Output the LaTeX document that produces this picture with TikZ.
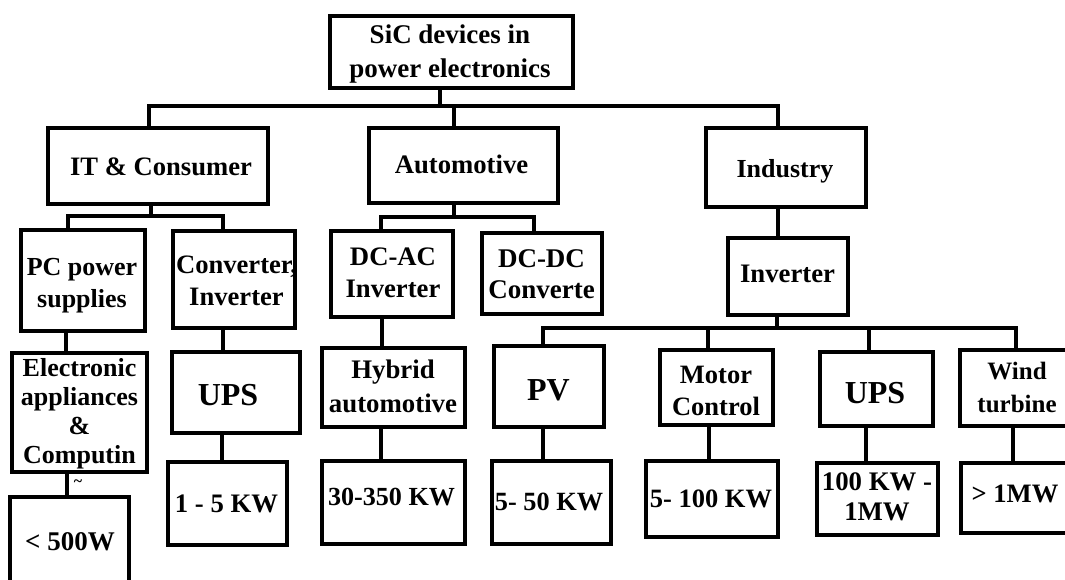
\documentclass[tikz,border=0pt]{standalone}
\usepackage{fontspec}
\setmainfont{Liberation Serif}
\newcommand{\fs}[2]{\bfseries\fontsize{#1}{#2}\selectfont}
\begin{document}
\begin{tikzpicture}[x=1pt,y=-1pt,
  bx/.style={draw, rectangle, line width=4.5pt, inner sep=0pt},
  cn/.style={line width=4.3pt, line join=miter},
  tx/.style={align=center, inner sep=0pt, anchor=base, font=\fs{26.7}{32}}]
\useasboundingbox (0,0) rectangle (1065,579);
\clip (0,0) rectangle (1065,579);
\fill[white] (0,0) rectangle (1065,579);
% boxes
\node[bx, minimum width=243pt, minimum height=72pt] (root) at (451.5,52) {};
\node[bx, minimum width=220pt, minimum height=76pt] (it) at (158,166) {};
\node[bx, minimum width=189pt, minimum height=75pt] (auto) at (463.5,165.5) {};
\node[bx, minimum width=160pt, minimum height=79pt] (ind) at (786,167.5) {};
\node[bx, minimum width=124pt, minimum height=101pt] (pc) at (83,280.5) {};
\node[bx, minimum width=122pt, minimum height=97pt] (conv) at (234,279.5) {};
\node[bx, minimum width=122pt, minimum height=86pt] (dcac) at (392,274) {};
\node[bx, minimum width=120pt, minimum height=81pt] (dcdc) at (542,273.5) {};
\node[bx, minimum width=120pt, minimum height=77pt] (inv) at (788,276.5) {};
\node[bx, minimum width=135pt, minimum height=119pt] (ea) at (79.5,412.5) {};
\node[bx, minimum width=128pt, minimum height=81pt] (ups1) at (236,392.5) {};
\node[bx, minimum width=143pt, minimum height=79pt] (hyb) at (393.5,387.5) {};
\node[bx, minimum width=110pt, minimum height=81pt] (pv) at (549,386.5) {};
\node[bx, minimum width=113pt, minimum height=75pt] (motor) at (716.5,387.5) {};
\node[bx, minimum width=113pt, minimum height=74pt] (ups2) at (876.5,389) {};
\node[bx, minimum width=114pt, minimum height=76pt] (wind) at (1017,388) {};
\node[bx, minimum width=119pt, minimum height=88pt] (w500) at (69.5,541) {};
\node[bx, minimum width=119pt, minimum height=83pt] (kw15) at (227.5,503.5) {};
\node[bx, minimum width=143pt, minimum height=83pt] (kw30) at (393.5,502.5) {};
\node[bx, minimum width=119pt, minimum height=83pt] (kw550) at (551.5,502.5) {};
\node[bx, minimum width=132pt, minimum height=76pt] (kw5100) at (712,499) {};
\node[bx, minimum width=121pt, minimum height=72pt] (kw100) at (877.5,499) {};
\node[bx, minimum width=108pt, minimum height=70pt] (kw1m) at (1015,498) {};
% texts (base anchor = baseline of the last line)
\node[tx, font=\fs{27}{34}] (root-t) at (450,77) {SiC devices in\\power electronics};
\node[tx, font=\fs{26.6}{32}] (it-t) at (161,175) {IT \& Consumer};
\node[tx] (auto-t) at (461.5,173) {Automotive};
\node[tx, font=\fs{26}{32}] (ind-t) at (785,177) {Industry};
\node[tx, font=\fs{26}{32}] (pc-t) at (82,307) {PC power\\supplies};
\node[tx, font=\fs{26.6}{32}] (conv-t) at (236.5,305) {Converter,\\Inverter};
\node[tx] (dcac-t) at (393,297) {DC-AC\\Inverter};
\node[tx, font=\fs{27}{31}] (dcdc-t) at (541.5,298) {DC-DC\\Converte};
\node[tx] (inv-t) at (787.5,282) {Inverter};
\node[tx, font=\fs{26}{29}] (ea-t) at (79.5,463) {Electronic\\appliances\\\&\\Computin};
\node[font=\fs{16}{16}, inner sep=0pt] (tilde) at (78,483) {\textasciitilde};
\node[tx, font=\fs{27}{32}] (w500-t) at (70,550) {\textless{} 500W};
\node[tx, font=\fs{32}{36}] (ups1-t) at (228,405) {UPS};
\node[tx] (kw15-t) at (226.5,512) {1 - 5 KW};
\node[tx, font=\fs{26.8}{34}] (hyb-t) at (393,412) {Hybrid\\automotive};
\node[tx, font=\fs{26.1}{32}] (kw30-t) at (391.5,505) {30-350 KW};
\node[tx, font=\fs{32}{36}] (pv-t) at (548.5,400) {PV};
\node[tx, font=\fs{26.3}{32}] (kw550-t) at (549,510) {5- 50 KW};
\node[tx, font=\fs{26.5}{32}] (motor-t) at (716,415) {Motor\\Control};
\node[tx, font=\fs{26.5}{32}] (kw5100-t) at (711,507) {5- 100 KW};
\node[tx, font=\fs{32}{36}] (ups2-t) at (875,403) {UPS};
\node[tx, font=\fs{26.8}{30}] (kw100-t) at (877,520) {100 KW -\\1MW};
\node[tx, font=\fs{25}{33}] (wind-t) at (1017,412) {Wind\\turbine};
\node[tx, font=\fs{26.6}{32}] (kw1m-t) at (1015,502) {\textgreater{} 1MW};
% junction coordinates
\coordinate (jr) at (440,106);
\coordinate (ji) at (149,106);
\coordinate (ja) at (454,106);
\coordinate (jn) at (778,106);
\coordinate (jit) at (151,216);
\coordinate (jpc) at (68,216);
\coordinate (jcv) at (223,216);
\coordinate (jau) at (454,217);
\coordinate (jdca) at (381,217);
\coordinate (jdcd) at (534,217);
\coordinate (jinv) at (777,328);
\coordinate (jpv) at (543,328);
\coordinate (jmo) at (708,328);
\coordinate (jup) at (869,328);
\coordinate (jwi) at (1016,328);
\coordinate (vpc) at (66,0);
\coordinate (vea) at (67,0);
\coordinate (vcv) at (223,0);
\coordinate (vup) at (222,0);
\coordinate (vdc) at (382,0);
\coordinate (vhy) at (381,0);
\coordinate (vpv) at (543,0);
\coordinate (vmo) at (709,0);
\coordinate (vu2) at (866,0);
\coordinate (vwi) at (1013,0);
% connectors
\draw[cn] (root.south -| jr) -- (jr);
\draw[cn] (it.north -| ji) -- (ji) -- (jn) -- (ind.north -| jn);
\draw[cn] (ja) -- (auto.north -| ja);
\draw[cn] (it.south -| jit) -- (jit);
\draw[cn] (pc.north -| jpc) -- (jpc) -- (jcv) -- (conv.north -| jcv);
\draw[cn] (auto.south -| jau) -- (jau);
\draw[cn] (dcac.north -| jdca) -- (jdca) -- (jdcd) -- (dcdc.north -| jdcd);
\draw[cn] (ind.south -| jn) -- (inv.north -| jn);
\draw[cn] (inv.south -| jinv) -- (jinv);
\draw[cn] (pv.north -| jpv) -- (jpv) -- (jwi) -- (wind.north -| jwi);
\draw[cn] (jmo) -- (motor.north -| jmo);
\draw[cn] (jup) -- (ups2.north -| jup);
\draw[cn] (pc.south -| vpc) -- (ea.north -| vpc);
\draw[cn] (ea.south -| vea) -- (w500.north -| vea);
\draw[cn] (conv.south -| vcv) -- (ups1.north -| vcv);
\draw[cn] (ups1.south -| vup) -- (kw15.north -| vup);
\draw[cn] (dcac.south -| vdc) -- (hyb.north -| vdc);
\draw[cn] (hyb.south -| vhy) -- (kw30.north -| vhy);
\draw[cn] (pv.south -| vpv) -- (kw550.north -| vpv);
\draw[cn] (motor.south -| vmo) -- (kw5100.north -| vmo);
\draw[cn] (ups2.south -| vu2) -- (kw100.north -| vu2);
\draw[cn] (wind.south -| vwi) -- (kw1m.north -| vwi);
\end{tikzpicture}
\end{document}
